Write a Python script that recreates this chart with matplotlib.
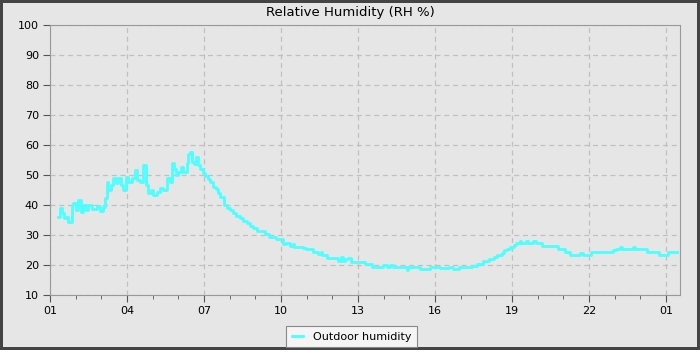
import matplotlib
matplotlib.use("Agg")
import matplotlib.pyplot as plt
import matplotlib.dates as mdates
import numpy as np
import pandas as pd

# hours after 01:00 where each reading starts, and the reading (RH %)
hours = [0.32, 0.39, 0.45, 0.55, 0.62, 0.71, 0.84, 0.91, 1.01, 1.10, 1.19, 1.30,
         1.40, 1.49, 1.62, 1.82, 1.95, 2.08, 2.14, 2.21, 2.27, 2.36, 2.47, 2.57,
         2.66, 2.75, 2.86, 2.96, 3.05, 3.18, 3.31, 3.40, 3.51, 3.64, 3.74, 3.83,
         3.92, 4.03, 4.16, 4.29, 4.42, 4.55, 4.68, 4.74, 4.83, 4.91, 5.00, 5.09,
         5.17, 5.32, 5.39, 5.45, 5.52, 5.61, 5.69, 5.75, 5.84, 5.95, 6.04, 6.17,
         6.23, 6.36, 6.45, 6.56, 6.62, 6.79, 6.88, 7.01, 7.14, 7.23, 7.40, 7.53,
         7.66, 7.79, 7.92, 8.05, 8.38, 8.55, 8.81, 9.08, 9.21, 9.34, 9.48, 9.51,
         9.67, 9.87, 9.97, 10.23, 10.45, 10.55, 10.60, 10.80, 11.23, 11.32, 11.40,
         11.49, 11.62, 11.71, 12.01, 12.27, 12.53, 12.99, 13.12, 13.25, 13.38,
         13.51, 13.90, 13.96, 14.01, 14.41, 14.80, 14.93, 15.19, 15.55, 15.71,
         15.93, 16.42, 16.62, 16.88, 17.11, 17.30, 17.40, 17.60, 17.70, 17.80,
         17.93, 18.06, 18.15, 18.31, 18.36, 18.54, 18.63, 18.83, 18.92, 19.18,
         19.80, 20.06, 20.25, 20.64, 20.77, 21.06, 21.94, 22.05, 22.20, 22.27,
         22.70, 22.78, 23.27, 23.73, 24.06]
rh = [35.9, 38.9, 37.2, 35.6, 36.1, 34.4, 40.0, 40.8, 38.3, 41.7, 37.8, 40.0,
      38.3, 40.0, 38.7, 39.7, 38.1, 39.4, 42.2, 47.8, 45.0, 46.7, 48.9, 47.2,
      48.9, 46.7, 45.0, 49.4, 47.8, 48.9, 51.7, 48.3, 47.8, 53.3, 46.7, 43.9,
      45.0, 43.3, 44.4, 45.6, 45.0, 48.9, 47.8, 53.9, 51.9, 50.0, 51.1, 52.8,
      51.1, 53.9, 57.0, 57.8, 54.4, 53.7, 55.9, 53.3, 51.9, 50.6, 49.7, 48.6,
      47.8, 46.1, 45.2, 43.9, 42.6, 40.0, 38.9, 38.3, 37.5, 36.3, 35.6, 34.8,
      33.9, 33.0, 32.2, 31.4, 30.3, 29.4, 28.6, 27.0, 27.4, 26.3, 27.0, 25.9,
      26.1, 25.7, 25.2, 24.2, 23.7, 24.2, 23.3, 22.2, 21.4, 22.8, 21.4,
      21.9, 22.2, 21.1, 21.1, 20.3, 19.4, 20.1, 19.2, 20.1, 19.2,
      19.2, 18.3, 19.2, 19.2, 18.6, 19.2, 19.2, 18.9, 19.2, 18.6,
      19.2, 19.7, 20.3, 21.2, 21.9, 22.6, 23.3, 24.1, 25.0, 25.2,
      25.9, 26.6, 27.2, 27.9, 27.2, 27.9, 27.2, 28.1, 27.2, 26.2,
      25.2, 24.2, 23.3, 23.9, 23.3, 24.2, 25.0, 25.2, 26.1, 25.2,
      26.1, 25.2, 24.2, 23.3, 24.2]
end_hour = 24.41

start = pd.Timestamp("2024-01-01 01:00")
times = start + pd.to_timedelta(hours + [end_hour], unit="h")
values = rh + [rh[-1]]

bg = "#e6e6e6"
fig = plt.figure(figsize=(7, 3.5), dpi=100)
fig.patch.set_facecolor(bg)
fig.patch.set_edgecolor("#444444")
fig.patch.set_linewidth(3)

ax = fig.add_axes([50 / 700, 55 / 350, 630 / 700, 270 / 350])
ax.set_facecolor(bg)
ax.step(times, values, where="post", color="#4dffff", linewidth=2.0, label="Outdoor humidity")

ax.set_ylim(10, 100)
ax.set_yticks(range(10, 101, 10))
ax.set_xlim(start, start + pd.Timedelta(hours=24.54))
ax.xaxis.set_major_locator(mdates.HourLocator(byhour=range(1, 24, 3)))
ax.xaxis.set_minor_locator(mdates.HourLocator())
ax.xaxis.set_major_formatter(mdates.DateFormatter("%H"))

for s in ax.spines.values():
    s.set_color("#999999")
ax.tick_params(which="major", length=5, color="#555555", labelsize=8, pad=3)
ax.tick_params(which="minor", length=3, color="#555555")
ax.grid(True, which="major", color="#c0c0c0", linestyle=(0, (4, 3)), linewidth=0.9)

fig.suptitle("Relative Humidity (RH %)", y=0.982, fontsize=9.5)
leg = ax.legend(loc="upper center", bbox_to_anchor=(0.4785, -0.095), fontsize=8,
                fancybox=False, edgecolor="#888888", facecolor="#f4f4f4",
                framealpha=1, handlelength=1.0, borderpad=0.5, handletextpad=0.9)
leg.get_frame().set_linewidth(0.8)

fig.savefig("out.png", dpi=100, facecolor=fig.get_facecolor(), edgecolor=fig.get_edgecolor())
